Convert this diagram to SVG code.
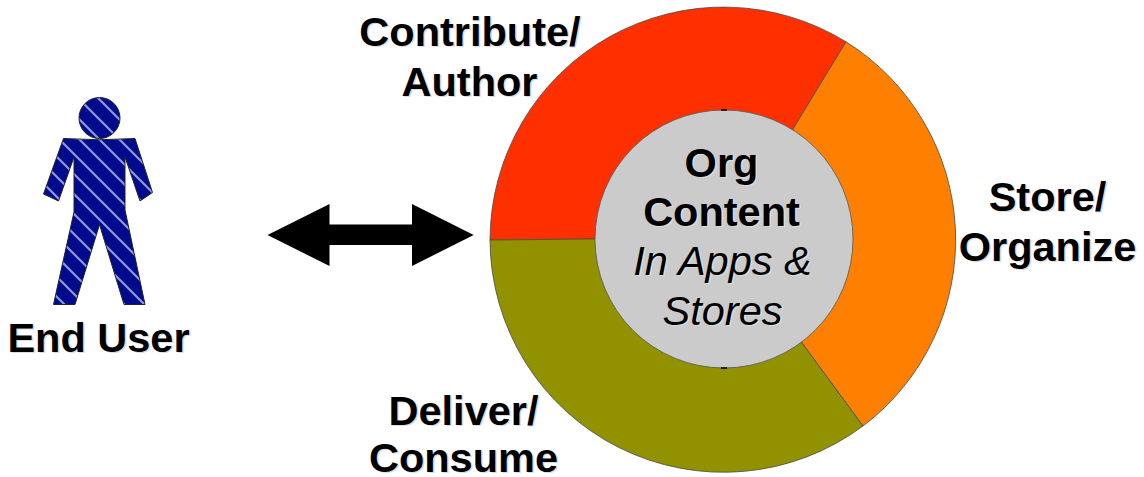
<svg xmlns="http://www.w3.org/2000/svg" width="1144" height="477" viewBox="0 0 1144 477">
<style>
text{font-family:"Liberation Sans",Arial,sans-serif;font-size:41.5px;fill:#000;text-anchor:middle}
.b{font-weight:bold}
.i{font-style:italic}
.s{fill:#dcdcdc}
.seg{stroke:#4a4a4a;stroke-width:.8}
</style>
<defs>
<pattern id="st" width="20" height="20" patternUnits="userSpaceOnUse">
<rect width="20" height="20" fill="#000a8c"/>
<path d="M-5,-5L25,25M-5,15L5,25M15,-5L25,5" stroke="#8f99d8" stroke-width="2.200"/>
</pattern>
</defs>
<g id="end-user">
<circle cx="99.500" cy="118" r="20.500" fill="url(#st)" stroke="#222" stroke-width="1"/>
<path d="M63.500,138.500Q99,141 135,138.500L152.500,192.500L140,201L125,157V210L145,304.500H124L99.500,224.500L75,304.500H53.500L74,212V157L58.500,201L43.500,194Z" fill="url(#st)" stroke="#222" stroke-width="1"/>
<text class="b s" x="100" y="353">End User</text>
<text class="b" x="98.500" y="352">End User</text>
</g>
<g id="cycle">
<path id="contribute" class="seg" fill="#ff3000" d="M490,240A233.500,233.500 0 0 1 846,41.800L793,129L595,239Z"/>
<path id="store" class="seg" fill="#ff7f00" d="M846,41.800A233.500,233.500 0 0 1 863,426L802,343L793,129Z"/>
<path id="deliver" class="seg" fill="#929100" d="M863,426A233.500,233.500 0 0 1 490,240L595,239L802,343Z"/>
<circle id="org-content" cx="724" cy="239" r="129" fill="#cbcbcb" stroke="#555" stroke-width=".8"/>
<path d="M721,110H727M721,368H727" stroke="#000" stroke-width="1.500"/>
</g>
<g id="labels">
<text class="b s" x="471.500" y="47">Contribute/</text><text class="b" x="470" y="46">Contribute/</text>
<text class="b s" x="471" y="97">Author</text><text class="b" x="469.500" y="96">Author</text>
<text class="b s" x="1049" y="212">Store/</text><text class="b" x="1047.500" y="211">Store/</text>
<text class="b s" x="1049" y="262">Organize</text><text class="b" x="1047.500" y="261">Organize</text>
<text class="b s" x="465" y="426">Deliver/</text><text class="b" x="463.500" y="425">Deliver/</text>
<text class="b s" x="465" y="473">Consume</text><text class="b" x="463.500" y="472">Consume</text>
<text class="b s" x="723" y="178">Org</text><text class="b" x="721.500" y="177">Org</text>
<text class="b s" x="723" y="227">Content</text><text class="b" x="721.500" y="226">Content</text>
<text class="i s" x="724" y="276">In Apps &amp;</text><text class="i" x="722.500" y="275">In Apps &amp;</text>
<text class="i s" x="724" y="326">Stores</text><text class="i" x="722.500" y="325">Stores</text>
</g>
<g id="connectors">
<path d="M267.500,235L329.500,204V224.500H412V204L473.700,235L412,266V245H329.500V266Z" fill="#000"/>
</g>
</svg>
